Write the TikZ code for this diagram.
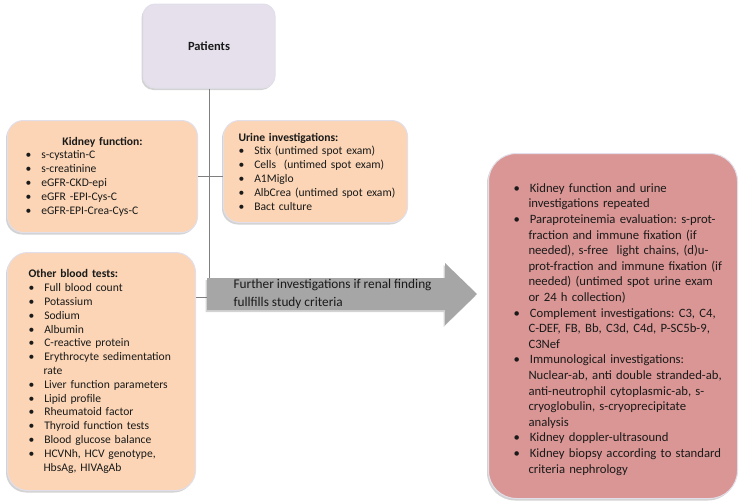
\documentclass[tikz,border=0pt]{standalone}
\usepackage{fontspec}
\setmainfont{Carlito}
\usepackage{enumitem}
\definecolor{lavender}{HTML}{E5E0EC}
\definecolor{peach}{HTML}{FBD5B5}
\definecolor{rose}{HTML}{D99694}
\definecolor{arrowgray}{HTML}{A6A6A6}
\definecolor{linegray}{HTML}{7F7F7F}
\definecolor{rimgray}{HTML}{E2DFEA}
\definecolor{ink}{HTML}{1A1A1A}
\usetikzlibrary{shadows, positioning, calc}
\frenchspacing
\newlist{tests}{itemize}{1}
\setlist[tests]{label=\textbullet, leftmargin=15pt, labelsep=10pt, labelwidth=5pt, align=left, rightmargin=-40pt, nosep}
\tikzset{
  softshadow/.style={drop shadow={shadow xshift=-1.5pt, shadow yshift=-2pt, opacity=0.35}},
  patients/.style={rectangle, rounded corners=12pt, minimum width=132pt, minimum height=84pt, text centered, draw=rimgray, line width=1pt, fill=lavender, softshadow, font=\bfseries\fontsize{12.5}{14}\selectfont},
  testbox/.style={rectangle, rounded corners=16pt, anchor=north west, align=left, draw=rimgray, line width=1pt, fill=peach, softshadow, font=\fontsize{11.6}{13.8}\selectfont},
  followbox/.style={rectangle, rounded corners=28pt, anchor=north west, align=left, draw=rimgray, line width=1pt, fill=rose, softshadow, font=\fontsize{12.7}{15.6}\selectfont},
  link/.style={draw=linegray, line width=0.8pt},
  bigarrow/.style={fill=arrowgray, softshadow},
  arrowtext/.style={anchor=west, align=left, text=ink, font=\fontsize{13.3}{18}\selectfont}
}
\begin{document}
\begin{tikzpicture}[x=1pt, y=-1pt, text=ink]
  \useasboundingbox (0,0) rectangle (740,504);

  % Root box
  \node (patients) [patients] at (209,46) {Patients};

  % First row of tests
  \node (kidney) [testbox, text width=154pt, inner xsep=18pt, minimum height=112pt] at (7,120) {%
    {\centering\textbf{Kidney function:}\par}
    \begin{tests}
      \item s-cystatin-C
      \item s-creatinine
      \item eGFR-CKD-epi
      \item eGFR -EPI-Cys-C
      \item eGFR-EPI-Crea-Cys-C
    \end{tests}};
  \node (urine) [testbox, text width=154pt, inner xsep=15pt, minimum height=102pt] at (223,120) {%
    \textbf{Urine investigations:}
    \begin{tests}
      \item Stix (untimed spot exam)
      \item Cells~ (untimed spot exam)
      \item A1Miglo
      \item AlbCrea (untimed spot exam)
      \item Bact culture
    \end{tests}};

  % Remaining blood tests
  \node (other) [testbox, rounded corners=20pt, text width=146pt, inner xsep=21pt, minimum height=238pt] at (7,252) {%
    \textbf{Other blood tests:}
    \begin{tests}
      \item Full blood count
      \item Potassium
      \item Sodium
      \item Albumin
      \item C-reactive protein
      \item Erythrocyte sedimentation\\rate
      \item Liver function parameters
      \item Lipid profile
      \item Rheumatoid factor
      \item Thyroid function tests
      \item Blood glucose balance
      \item HCVNh, HCV genotype,\\HbsAg, HIVAgAb
    \end{tests}};

  % Second stage
  \node (further) [followbox, text width=199pt, inner xsep=25pt, minimum height=345pt] at (488,153) {%
    \begin{tests}
      \item Kidney function and urine\\investigations repeated
      \item Paraproteinemia evaluation: s-prot-\\fraction and immune fixation (if\\needed), s-free~ light chains, (d)u-\\prot-fraction and immune fixation (if\\needed) (untimed spot urine exam\\or 24 h collection)
      \item Complement investigations: C3, C4,\\C-DEF, FB, Bb, C3d, C4d, P-SC5b-9,\\C3Nef
      \item Immunological investigations:\\Nuclear-ab, anti double stranded-ab,\\anti-neutrophil cytoplasmic-ab, s-\\cryoglobulin, s-cryoprecipitate\\analysis
      \item Kidney doppler-ultrasound
      \item Kidney biopsy according to standard\\criteria nephrology
    \end{tests}};

  % Connections
  \coordinate (joint) at (209,297);
  \draw [link] (patients.south) -- (joint) -- (joint -| other.east);
  \draw [link] (kidney.east) -- (urine.west |- kidney.east);

  % Big arrow to second stage
  \fill [bigarrow] (207,278) -- (445,278) -- (445,263) -- (477,294) -- (445,325) -- (445,310) -- (207,310) -- cycle;
  \node (arrowlbl) [arrowtext] at (230,294) {Further investigations if renal finding\\fullfills study criteria};

\end{tikzpicture}
\end{document}
